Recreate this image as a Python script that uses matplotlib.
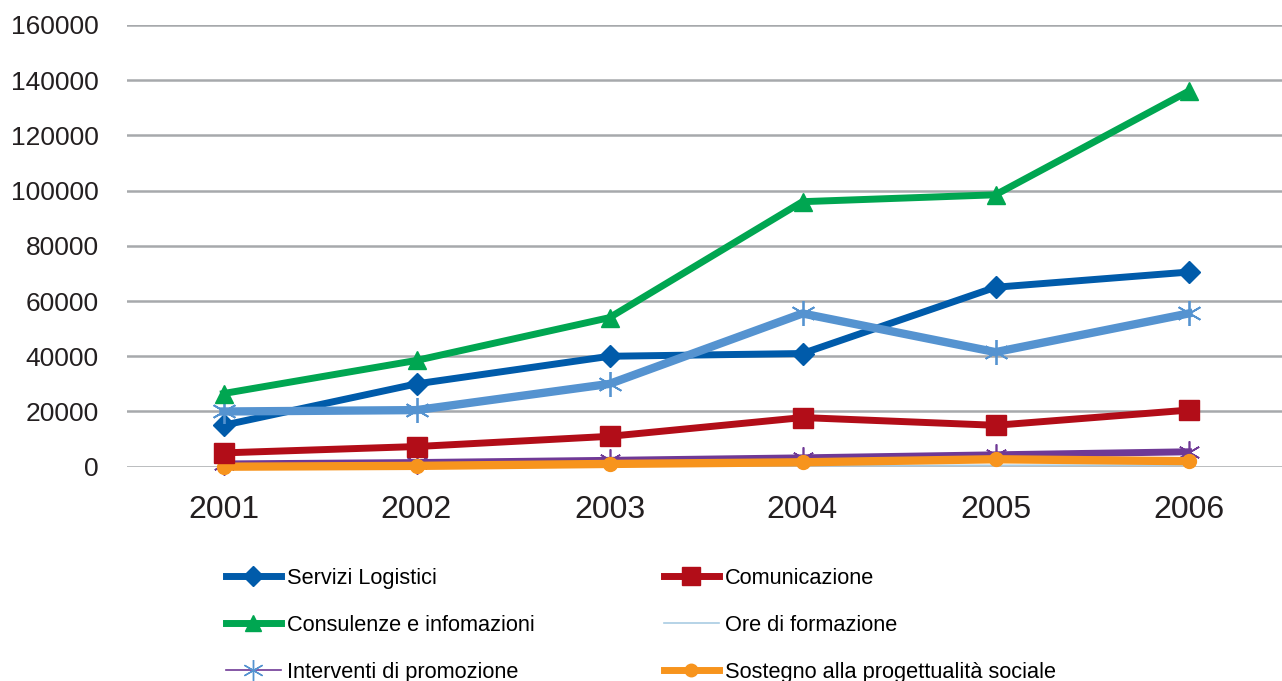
import matplotlib
matplotlib.use("Agg")
import matplotlib.pyplot as plt
from matplotlib.lines import Line2D

plt.rcParams['font.family'] = ['Liberation Sans', 'DejaVu Sans']

years = ["2001", "2002", "2003", "2004", "2005", "2006"]
servizi_logistici = [15000, 30000, 40000, 41000, 65000, 70500]
consulenze = [26500, 38500, 54000, 96000, 98500, 136000]
serie_azzurra = [20000, 20500, 30000, 55500, 41500, 55500]
comunicazione = [5000, 7300, 11000, 17800, 15000, 20500]
serie_viola = [1000, 1500, 2300, 3200, 4300, 5400]
ore_formazione = [100, 200, 300, 400, 500, 600]
sostegno = [0, 300, 1000, 1600, 2700, 2000]
yticks = [0, 20000, 40000, 60000, 80000, 100000, 120000, 140000, 160000]

BLUE = "#005BAA"
GREEN = "#00A651"
LBLUE = "#5593D0"
RED = "#B20D18"
PURPLE = "#6F3996"
ORANGE = "#F7941D"
PALE = "#A9CCE3"
GRID = "#A7A9AC"

fig = plt.figure(figsize=(12.82, 6.81), dpi=100)
ax = fig.add_axes([127/1282, 1 - 466.7/681, 1158/1282, (466.7 - 25)/681])

x = list(range(len(years)))
ax.plot(x, ore_formazione, color=PALE, lw=1.2, clip_on=False, zorder=3)
ax.plot(x, serie_viola, color=PURPLE, lw=5, marker=(6, 2, 0), ms=16, mew=1.2,
        mec=PURPLE, clip_on=False, zorder=4)
ax.plot(x, sostegno, color=ORANGE, lw=6, marker='o', ms=10, clip_on=False, zorder=5)
ax.plot(x, comunicazione, color=RED, lw=5, marker='s', ms=14.5, clip_on=False, zorder=6)
ax.plot(x, servizi_logistici, color=BLUE, lw=5, marker='D', ms=11.5, clip_on=False, zorder=7)
ax.plot(x, serie_azzurra, color=LBLUE, lw=6, marker=(6, 2, 0), ms=18, mew=1.3,
        mec=LBLUE, clip_on=False, zorder=8)
ax.plot(x, consulenze, color=GREEN, lw=5, marker='^', ms=13.5, clip_on=False, zorder=9)

ax.set_xlim(-0.5, 5.5)
ax.set_ylim(0, 160000)
ax.set_xticks(x)
ax.set_xticklabels(years, fontsize=23, color="#231F20")
ax.set_yticks(yticks)
ax.set_yticklabels([str(v) for v in yticks], fontsize=19, color="#231F20")
ax.tick_params(axis='both', length=0)
ax.tick_params(axis='y', pad=20.5)
ax.tick_params(axis='x', pad=20.5)
ax.grid(axis='y', color=GRID, lw=1.8)
ax.set_axisbelow(True)
for s in ax.spines.values():
    s.set_visible(False)

handles = [
    Line2D([], [], color=BLUE, lw=5, marker='D', ms=10),
    Line2D([], [], color=GREEN, lw=5, marker='^', ms=12),
    Line2D([], [], color=PURPLE, lw=1.2, marker=(6, 2, 0), ms=15, mew=1, mec=LBLUE),
    Line2D([], [], color=RED, lw=5, marker='s', ms=13),
    Line2D([], [], color=PALE, lw=1.2),
    Line2D([], [], color=ORANGE, lw=5, marker='o', ms=9),
]
labels = ["Servizi Logistici", "Consulenze e infomazioni", "Interventi di promozione",
          "Comunicazione", "Ore di formazione", "Sostegno alla progettualità sociale"]
fig.legend(handles, labels, loc='upper left', bbox_to_anchor=(226/1282, 1 - 568/681),
           ncol=2, frameon=False, fontsize=15.7, handlelength=2.5, handletextpad=0.28,
           labelspacing=1.19, columnspacing=5.95, borderpad=0, borderaxespad=0,
           handleheight=0.7)

fig.savefig("out.png", dpi=100)
